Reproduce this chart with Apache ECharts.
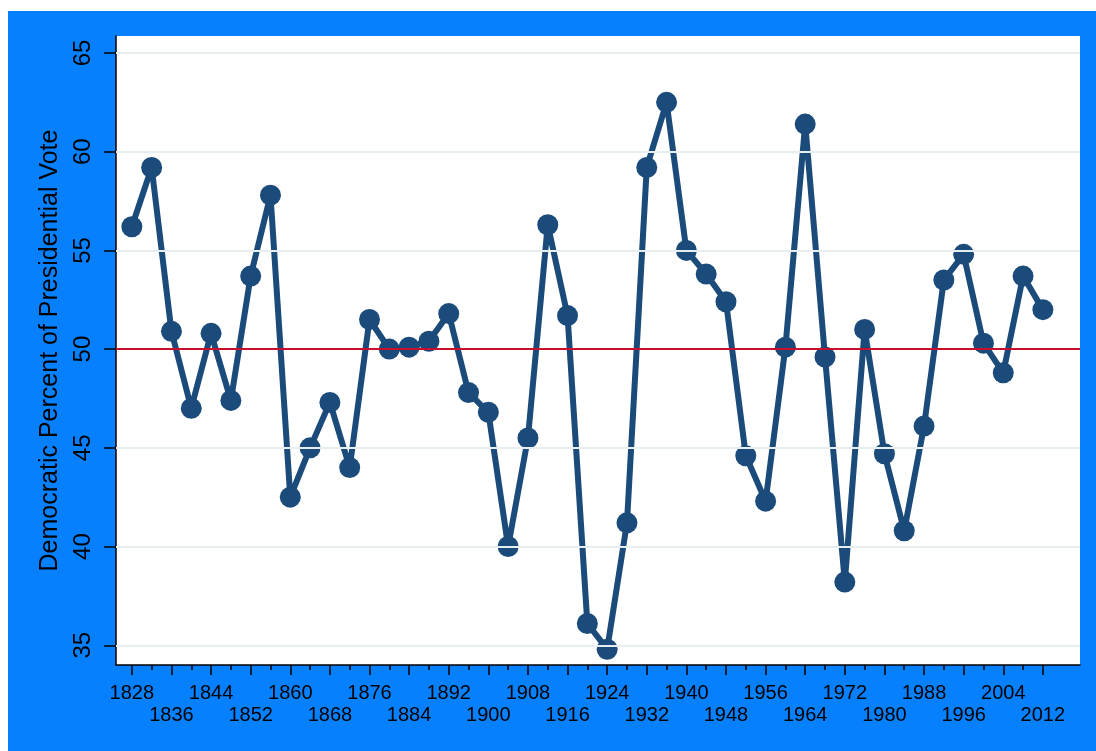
<!DOCTYPE html>
<html>
<head>
<meta charset="utf-8">
<script src="https://cdn.jsdelivr.net/npm/echarts@6/dist/echarts.min.js"></script>
<style>
html,body{margin:0;padding:0;background:#fff;}
#chart{width:1096px;height:751px;}
</style>
</head>
<body>
<div id="chart"></div>
<script>
var years = [1828,1832,1836,1840,1844,1848,1852,1856,1860,1864,1868,1872,1876,1880,1884,1888,1892,1896,1900,1904,1908,1912,1916,1920,1924,1928,1932,1936,1940,1944,1948,1952,1956,1960,1964,1968,1972,1976,1980,1984,1988,1992,1996,2000,2004,2008,2012];
var demPct = [56.2,59.2,50.9,47.0,50.8,47.4,53.7,57.8,42.5,45.0,47.3,44.0,51.5,50.0,50.1,50.4,51.8,47.8,46.8,40.0,45.5,56.3,51.7,36.1,34.8,41.2,59.2,62.5,55.0,53.8,52.4,44.6,42.3,50.1,61.4,49.6,38.2,51.0,44.7,40.8,46.1,53.5,54.8,50.3,48.8,53.7,52.0];
var xMajorYears = [1828,1836,1844,1852,1860,1868,1876,1884,1892,1900,1908,1916,1924,1932,1940,1948,1956,1964,1972,1980,1988,1996,2004,2012];
var xLabelsTopRow = [1828,1844,1860,1876,1892,1908,1924,1940,1956,1972,1988,2004];
var xLabelsBottomRow = [1836,1852,1868,1884,1900,1916,1932,1948,1964,1980,1996,2012];
var xMinorYears = [1832,1840,1848,1856,1864,1872,1880,1888,1896,1904,1912,1920,1928,1936,1944,1952,1960,1968,1976,1984,1992,2000,2008];
var yTicks = [35,40,45,50,55,60,65];
var refValue = 50;

var font = 'Liberation Sans, Arial, sans-serif';
var chart = echarts.init(document.getElementById('chart'));
var pts = years.map(function(y,i){return [y, demPct[i]];});
var xMin = 1824.8, xMax = 2019.5;
var labelBase = {show:true, showMinLabel:true, showMaxLabel:true, hideOverlap:false, fontSize:20, color:'#000', fontFamily:font,
  formatter:function(v){ return String(v); }};

chart.setOption({
  animation:false,
  backgroundColor:'#ffffff',
  graphic:[{type:'rect', z:-10, shape:{x:8,y:11,width:1088,height:740}, style:{fill:'#0780fd'}, silent:true}],
  grid:{left:116, top:36, width:964, height:629, show:true, backgroundColor:'#ffffff', borderWidth:0, z:0},
  xAxis:[{
    type:'value', min:xMin, max:xMax, position:'bottom',
    axisLine:{show:true, onZero:false, lineStyle:{color:'#000', width:1.5}},
    axisTick:{show:true, customValues:xMajorYears, length:10, lineStyle:{color:'#000', width:1.5}},
    axisLabel:Object.assign({customValues:xLabelsTopRow, margin:18}, labelBase),
    splitLine:{show:false}
  },{
    type:'value', min:xMin, max:xMax, position:'bottom',
    axisLine:{show:false, onZero:false},
    axisTick:{show:true, customValues:xMinorYears, length:5, lineStyle:{color:'#000', width:1.5}},
    axisLabel:Object.assign({customValues:xLabelsBottomRow, margin:40}, labelBase),
    splitLine:{show:false}
  }],
  yAxis:{
    type:'value', min:34, max:65.86,
    name:'Democratic Percent of Presidential Vote', nameLocation:'middle', nameRotate:90, nameGap:52,
    nameTextStyle:{fontSize:25, color:'#000', fontFamily:font},
    axisLine:{show:true, onZero:false, lineStyle:{color:'#000', width:1.5}},
    axisTick:{show:true, customValues:yTicks, length:12, lineStyle:{color:'#000', width:1.5}},
    axisLabel:{show:true, customValues:yTicks, showMinLabel:true, showMaxLabel:true, rotate:90, fontSize:24, margin:21, color:'#000', fontFamily:font},
    splitLine:{show:false}
  },
  series:[{
    type:'line', data:[], z:1, silent:true,
    markLine:{silent:true, symbol:'none', label:{show:false}, animation:false,
      data: yTicks.filter(function(t){return t!==refValue;}).map(function(t){return {yAxis:t, lineStyle:{color:'#e6eef0', width:2, type:'solid'}};})
        .concat([{yAxis:refValue, lineStyle:{color:'#c8102e', width:2, type:'solid'}}])}
  },{
    type:'line', data:pts, z:3, silent:true,
    lineStyle:{color:'#1b4b7a', width:6},
    itemStyle:{color:'#1b4b7a'},
    symbol:'circle', symbolSize:21, showAllSymbol:true
  }]
});
</script>
</body>
</html>
